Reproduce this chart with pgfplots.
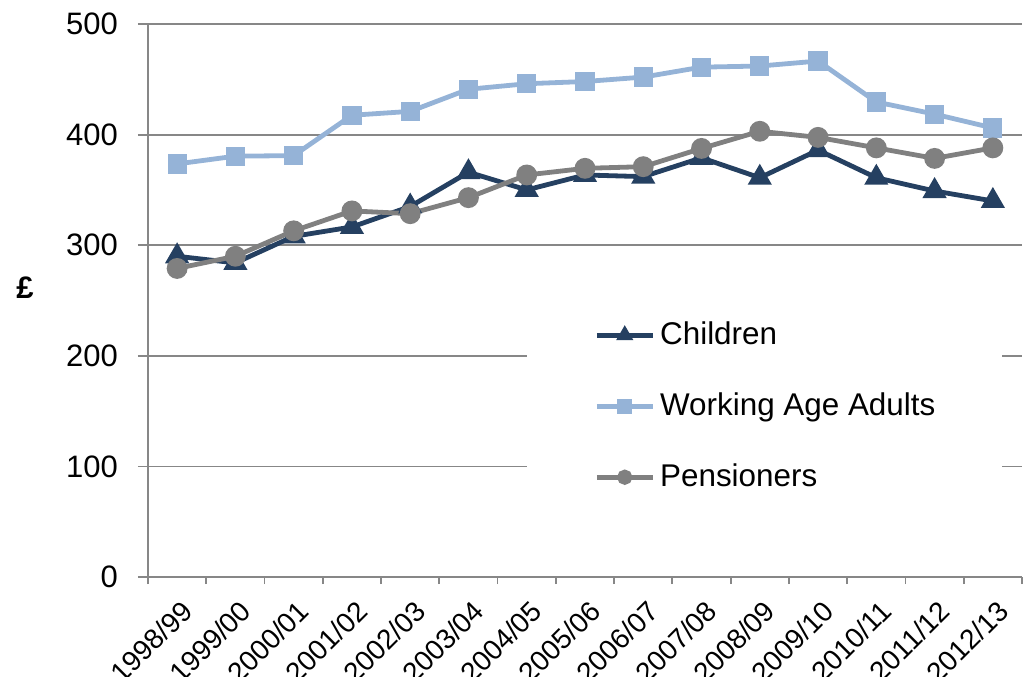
\documentclass[border=0pt]{standalone}
\usepackage{fontspec}
\setmainfont{Liberation Sans}
\usepackage{pgfplots}
\pgfplotsset{compat=1.18}

\definecolor{childcol}{HTML}{254061}
\definecolor{workcol}{HTML}{95B3D7}
\definecolor{pencol}{HTML}{808080}
\definecolor{axiscol}{HTML}{878787}

\pgfplotsset{
  series/.style={line width=2.4pt, mark options={solid}},
}

\begin{document}
\begin{tikzpicture}
\begin{axis}[
  scale only axis,
  width=437pt, height=276.5pt,
  xmin=-0.5, xmax=14.5,
  ymin=0, ymax=500,
  ytick={0,100,...,500},
  xtick={0,...,14},
  xticklabels={1998/99,1999/00,2000/01,2001/02,2002/03,2003/04,2004/05,2005/06,2006/07,2007/08,2008/09,2009/10,2010/11,2011/12,2012/13},
  minor xtick={-0.5,0.5,...,14.5},
  major x tick style={draw=none},
  tick align=outside,
  major tick length=5pt,
  minor tick length=3.5pt,
  tick style={axiscol, line width=0.9pt},
  axis lines*=left,
  axis line style={axiscol, line width=0.9pt},
  ymajorgrids,
  grid style={axiscol, line width=0.9pt},
  /pgf/number format/assume math mode=true,
  yticklabel style={font=\fontsize{15.5}{18}\selectfont, xshift=-6.5pt},
  xticklabel style={font=\fontsize{14}{16}\selectfont, rotate=45, anchor=north east, inner sep=1pt, xshift=-2pt, yshift=-4pt},
  ylabel={\bfseries £},
  ylabel style={font=\fontsize{15.5}{18}\selectfont, rotate=-90, at={(axis description cs:0,0.524)}, anchor=center, xshift=-61.5pt},
  legend cell align=left,
  legend style={
    at={(0.4336,0.494)}, anchor=north west,
    fill=white, draw=none,
    inner xsep=33.5pt, inner ysep=8pt,
    font=\fontsize{15.7}{19}\selectfont,
    row sep=20.5pt,
    nodes={inner sep=0pt, text height=12pt, text depth=3pt},
  },
  legend image code/.code={
    \draw[#1, mark repeat=2, mark phase=2, mark size=2.6pt]
      plot coordinates {(0pt,0pt) (14pt,0pt) (28pt,0pt)};
    \path (30.5pt,0pt);
  },
]
\addplot[series, color=childcol, mark=triangle*, mark size=4.6pt] coordinates {
  (0,290) (1,284) (2,308) (3,316.5) (4,335) (5,366) (6,350) (7,363.5)
  (8,362) (9,379) (10,361) (11,386) (12,361) (13,349) (14,340)
};
\addlegendentry{Children}
\addplot[series, color=workcol, mark=square*, mark size=3.6pt] coordinates {
  (0,373.5) (1,380.5) (2,381) (3,417.5) (4,421) (5,441) (6,446) (7,448)
  (8,452) (9,461) (10,462) (11,466.5) (12,429.5) (13,418.5) (14,406)
};
\addlegendentry{Working Age Adults}
\addplot[series, color=pencol, mark=*, mark size=4pt] coordinates {
  (0,279) (1,290) (2,313) (3,331) (4,328.5) (5,343) (6,363.5) (7,369.5)
  (8,371) (9,387.5) (10,403) (11,397.5) (12,388) (13,378.5) (14,388)
};
\addlegendentry{Pensioners}
\end{axis}
\pgfresetboundingbox
\path[use as bounding box] (-74pt,-49.5pt) rectangle (438pt,288.5pt);
\end{tikzpicture}
\end{document}
